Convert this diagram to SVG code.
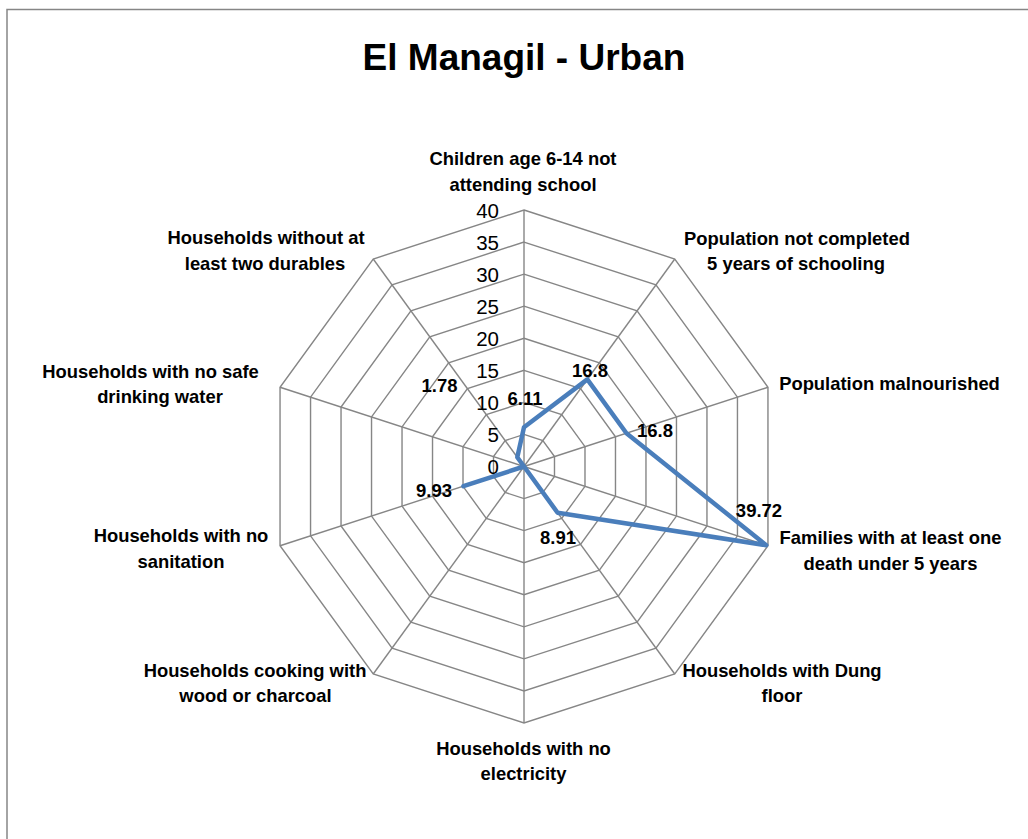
<svg xmlns="http://www.w3.org/2000/svg" width="1028" height="839" viewBox="0 0 1028 839">
<style>
.grid{fill:none;stroke:#868686;stroke-width:1.4}
.axis{stroke:#868686;stroke-width:1.4}
.tick{font-family:"Liberation Sans",Arial,sans-serif;font-size:20.5px;fill:#000;text-anchor:end}
.cat{font-family:"Liberation Sans",Arial,sans-serif;font-size:18.4px;font-weight:bold;fill:#000;text-anchor:middle}
.dl{font-family:"Liberation Sans",Arial,sans-serif;font-size:18.5px;font-weight:bold;fill:#000;text-anchor:middle}
.title{font-family:"Liberation Sans",Arial,sans-serif;font-size:37px;font-weight:bold;fill:#000;text-anchor:middle}
.series{fill:none;stroke:#4A7EBB;stroke-width:4.5;stroke-linejoin:round;stroke-linecap:round}
</style>
<rect x="0" y="0" width="1028" height="839" fill="#fff"/>
<rect x="7" y="9.5" width="1040" height="850" fill="#fff" stroke="#868686" stroke-width="1.5"/>
<text class="title" x="524" y="70">El Managil - Urban</text>
<g id="grid">
<polygon class="grid" points="524,434.44 542.85,440.56 554.49,456.59 554.49,476.41 542.85,492.44 524,498.56 505.15,492.44 493.51,476.41 493.51,456.59 505.15,440.56"/>
<polygon class="grid" points="524,402.38 561.69,414.62 584.99,446.68 584.99,486.32 561.69,518.38 524,530.63 486.31,518.38 463.01,486.32 463.01,446.68 486.31,414.62"/>
<polygon class="grid" points="524,370.31 580.54,388.68 615.48,436.78 615.48,496.22 580.54,544.32 524,562.69 467.46,544.32 432.52,496.22 432.52,436.78 467.46,388.68"/>
<polygon class="grid" points="524,338.25 599.38,362.74 645.97,426.87 645.97,506.13 599.38,570.26 524,594.75 448.62,570.26 402.03,506.13 402.03,426.87 448.62,362.74"/>
<polygon class="grid" points="524,306.19 618.23,336.81 676.47,416.96 676.47,516.04 618.23,596.2 524,626.81 429.77,596.2 371.53,516.04 371.53,416.96 429.77,336.81"/>
<polygon class="grid" points="524,274.13 637.08,310.87 706.96,407.05 706.96,525.95 637.08,622.13 524,658.88 410.92,622.13 341.04,525.95 341.04,407.05 410.92,310.87"/>
<polygon class="grid" points="524,242.06 655.92,284.93 737.45,397.15 737.45,535.86 655.92,648.07 524,690.94 392.08,648.07 310.55,535.86 310.55,397.15 392.08,284.93"/>
<polygon class="grid" points="524,210 674.77,258.99 767.96,387.24 767.96,545.76 674.77,674.01 524,723 373.23,674.01 280.04,545.76 280.04,387.24 373.23,258.99"/>
<line class="axis" x1="524" y1="466.5" x2="524" y2="210"/>
<line class="axis" x1="524" y1="466.5" x2="674.77" y2="258.99"/>
<line class="axis" x1="524" y1="466.5" x2="767.96" y2="387.24"/>
<line class="axis" x1="524" y1="466.5" x2="767.96" y2="545.76"/>
<line class="axis" x1="524" y1="466.5" x2="674.77" y2="674.01"/>
<line class="axis" x1="524" y1="466.5" x2="524" y2="723"/>
<line class="axis" x1="524" y1="466.5" x2="373.23" y2="674.01"/>
<line class="axis" x1="524" y1="466.5" x2="280.04" y2="545.76"/>
<line class="axis" x1="524" y1="466.5" x2="280.04" y2="387.24"/>
<line class="axis" x1="524" y1="466.5" x2="373.23" y2="258.99"/>
</g>
<g id="ticks">
<text class="tick" x="499" y="474">0</text>
<text class="tick" x="499" y="442">5</text>
<text class="tick" x="499" y="410">10</text>
<text class="tick" x="499" y="377.5">15</text>
<text class="tick" x="499" y="345.5">20</text>
<text class="tick" x="499" y="313.5">25</text>
<text class="tick" x="499" y="281.5">30</text>
<text class="tick" x="499" y="249.5">35</text>
<text class="tick" x="499" y="217.5">40</text>
</g>
<g id="connectors">
<polygon id="series" class="series" points="524,427.32 587.32,379.35 626.46,433.21 766.24,545.21 557.58,512.72 524,466.5 524,466.5 463.44,486.18 524,466.5 517.29,457.27"/>
</g>
<g id="data-labels">
<text class="dl" x="525" y="404.5">6.11</text>
<text class="dl" x="590" y="376.5">16.8</text>
<text class="dl" x="655" y="436.5">16.8</text>
<text class="dl" x="759" y="516.5">39.72</text>
<text class="dl" x="558" y="543.5">8.91</text>
<text class="dl" x="434" y="496.5">9.93</text>
<text class="dl" x="439.5" y="391.5">1.78</text>
</g>
<g id="node-children"><text class="cat" x="523" y="164.5">Children age 6-14 not</text><text class="cat" x="523" y="191">attending school</text></g>
<g id="node-schooling"><text class="cat" x="797" y="244.5">Population not completed</text><text class="cat" x="796" y="269.5">5 years of schooling</text></g>
<g id="node-malnourished"><text class="cat" x="889.5" y="389.5">Population malnourished</text></g>
<g id="node-death"><text class="cat" x="890.5" y="543.5">Families with at least one</text><text class="cat" x="890.5" y="569.5">death under 5 years</text></g>
<g id="node-dung"><text class="cat" x="782" y="676.5">Households with Dung</text><text class="cat" x="782" y="701.5">floor</text></g>
<g id="node-electricity"><text class="cat" x="523.5" y="754.5">Households with no</text><text class="cat" x="523.5" y="779.5">electricity</text></g>
<g id="node-cooking"><text class="cat" x="255" y="676.5">Households cooking with</text><text class="cat" x="255.5" y="701.5">wood or charcoal</text></g>
<g id="node-sanitation"><text class="cat" x="181" y="541.5">Households with no</text><text class="cat" x="181" y="568">sanitation</text></g>
<g id="node-water"><text class="cat" x="150.5" y="377.5">Households with no safe</text><text class="cat" x="160" y="403">drinking water</text></g>
<g id="node-durables"><text class="cat" x="266" y="243.5">Households without at</text><text class="cat" x="265" y="269.5">least two durables</text></g>
</svg>
